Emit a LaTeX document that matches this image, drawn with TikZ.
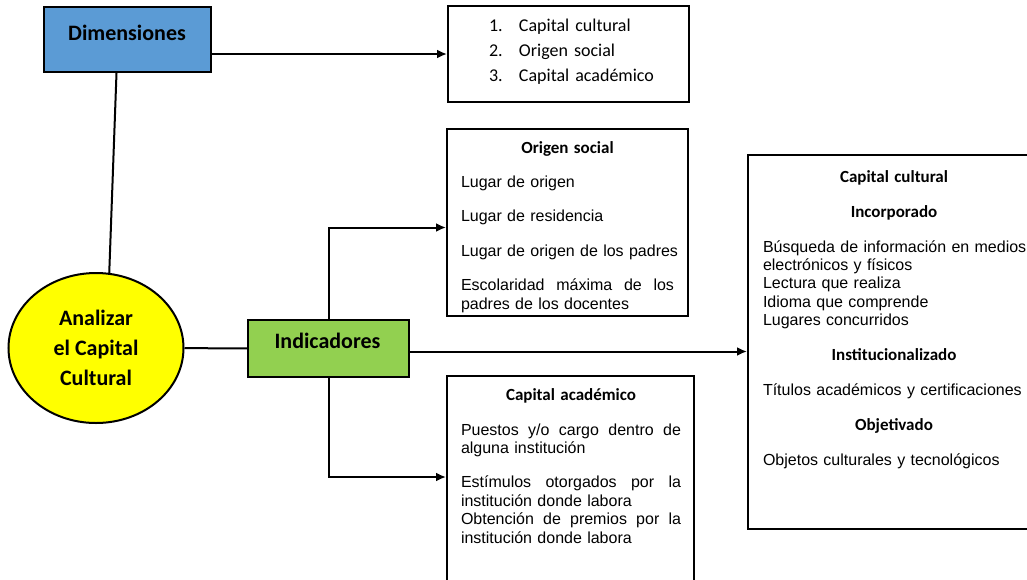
\documentclass[tikz,border=0pt]{standalone}
\usepackage{fontspec}
\setmainfont{Liberation Sans}
\newfontfamily\calibri{Carlito}
\usetikzlibrary{arrows.meta,shapes.geometric}
\definecolor{dimblue}{HTML}{5B9BD5}
\definecolor{indgreen}{HTML}{92D050}
\definecolor{anayellow}{HTML}{FFFF00}
\newcommand{\boxhead}{\calibri\bfseries\fontsize{17}{18.4}\selectfont}
\newcommand{\spreadline}[2]{\makebox[#1][l]{#2}}

\begin{document}
\begin{tikzpicture}[%
x=1pt,y=-1pt,>={Latex[length=10pt,width=9pt]},line width=2pt,
box/.style={draw, shape=rectangle, line width=2pt, inner sep=0pt, anchor=north west},
bigtitle/.style={font=\calibri\bfseries\fontsize{22}{30}\selectfont, anchor=base, inner sep=0pt},
boxtext/.style={anchor=base west, inner sep=0pt, align=left, font=\fontsize{16}{18.4}\selectfont}
]
\useasboundingbox (0,0) rectangle (1027,579);
% main nodes
\node[box,fill=dimblue,minimum width=167pt,minimum height=65pt] (dim) at (43,6) {};
\node[bigtitle] (dimlbl) at (127,40) {Dimensiones};
\node[draw,shape=ellipse,fill=anayellow,line width=2pt,minimum width=175pt,minimum height=150pt,
  inner sep=0pt,align=center,font=\calibri\bfseries\fontsize{22}{30}\selectfont] (ana) at (96,348)
  {Analizar\\el Capital\\Cultural};
\node[box,fill=indgreen,minimum width=161pt,minimum height=57pt] (ind) at (247,319) {};
\node[bigtitle] (indlbl) at (327.5,348) {Indicadores};
% boxes
\node[box,minimum width=241pt,minimum height=96pt] (list) at (447,5) {};
\node[box,minimum width=241pt,minimum height=187pt] (origen) at (446,128) {};
\node[box,minimum width=247pt,minimum height=230pt] (acad) at (446,375) {};
\node[box,minimum width=292pt,minimum height=374pt] (cult) at (747,154) {};
% box texts
\node[boxtext,text width=190pt,font=\calibri\fontsize{18}{25}\selectfont] (listtxt) at (488,31)
  {\makebox[30pt][l]{1.}Capital cultural\\
   \makebox[30pt][l]{2.}Origen social\\
   \makebox[30pt][l]{3.}Capital académico};
\node[boxtext,text width=235pt] (origentxt) at (460,153)
  {\makebox[213pt]{\boxhead Origen social}\\[16pt]
   Lugar de origen\\[16pt]
   Lugar de residencia\\[16pt]
   Lugar de origen de los padres\\[16pt]
   \spreadline{213pt}{Escolaridad\hfill máxima\hfill de\hfill los}\\
   padres de los docentes};
\node[boxtext,text width=240pt] (acadtxt) at (460,400)
  {\makebox[220pt]{\boxhead Capital académico}\\[16.6pt]
   \spreadline{220pt}{Puestos\hfill y/o\hfill cargo\hfill dentro\hfill de}\\
   alguna institución\\[16pt]
   \spreadline{220pt}{Estímulos\hfill otorgados\hfill por\hfill la}\\
   institución donde labora\\
   \spreadline{220pt}{Obtención\hfill de\hfill premios\hfill por\hfill la}\\
   institución donde labora};
\node[boxtext,text width=280pt] (culttxt) at (762,182)
  {\makebox[262pt]{\boxhead Capital cultural}\\[16.6pt]
   \makebox[262pt]{\boxhead Incorporado}\\[16.6pt]
   Búsqueda de información en medios\\
   electrónicos y físicos\\
   Lectura que realiza\\
   Idioma que comprende\\
   Lugares concurridos\\[16.6pt]
   \makebox[262pt]{\boxhead Institucionalizado}\\[16.6pt]
   Títulos académicos y certificaciones\\[16.6pt]
   \makebox[262pt]{\boxhead Objetivado}\\[16.6pt]
   Objetos culturales y tecnológicos};
% connectors
\draw[->] (dim.east |- list.west) -- (list.west);
\draw ([xshift=-11pt]dim.south) -- (ana.80);
\draw (ana) -- (ind);
\draw[->] (ind.north) |- ([yshift=-5pt]origen.west);
\draw[->] (ind.south) |- ([yshift=14pt]acad.west);
\draw[->] ([yshift=-3pt]ind.east) -- ([yshift=-3pt]ind.east -| cult.west);
\end{tikzpicture}
\end{document}
